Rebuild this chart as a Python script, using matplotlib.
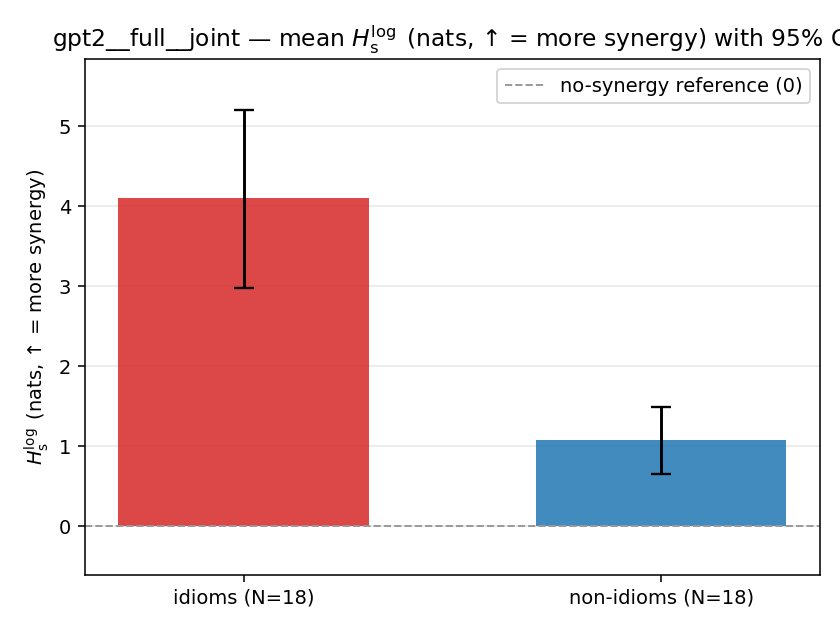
import matplotlib
matplotlib.use("Agg")
import matplotlib.pyplot as plt

categories = ["idioms (N=18)", "non-idioms (N=18)"]
means = [4.10, 1.075]
ci_low = [2.975, 0.65]
ci_high = [5.21, 1.49]
colors = ["tab:red", "tab:blue"]

fig, ax = plt.subplots(figsize=(6.0, 4.5), dpi=140)
fig.subplots_adjust(left=0.101, right=0.976, top=0.906, bottom=0.087)

x = list(range(len(categories)))
yerr = [[m - l for m, l in zip(means, ci_low)], [h - m for m, h in zip(means, ci_high)]]
ax.bar(x, means, width=0.6, color=colors, alpha=0.85, zorder=2)
ax.errorbar(x, means, yerr=yerr, fmt="none", ecolor="black", elinewidth=1.5,
            capsize=5, capthick=1.2, zorder=3)
ax.axhline(0, color="0.6", linestyle="--", linewidth=1, label="no-synergy reference (0)", zorder=2.5)
ax.grid(axis="y", alpha=0.3, zorder=0)
ax.set_axisbelow(True)
ax.set_xticks(x)
ax.set_xticklabels(categories)
ax.set_ylim(-0.61, 5.84)
ax.set_ylabel(r"$H_{\mathrm{s}}^{\log}$ (nats, ↑ = more synergy)")
ax.set_title(r"gpt2__full__joint — mean $H_{\mathrm{s}}^{\log}$ (nats, ↑ = more synergy) with 95% CI", fontsize=12)
ax.legend(loc="upper right")

fig.savefig("out.png", dpi=140)
